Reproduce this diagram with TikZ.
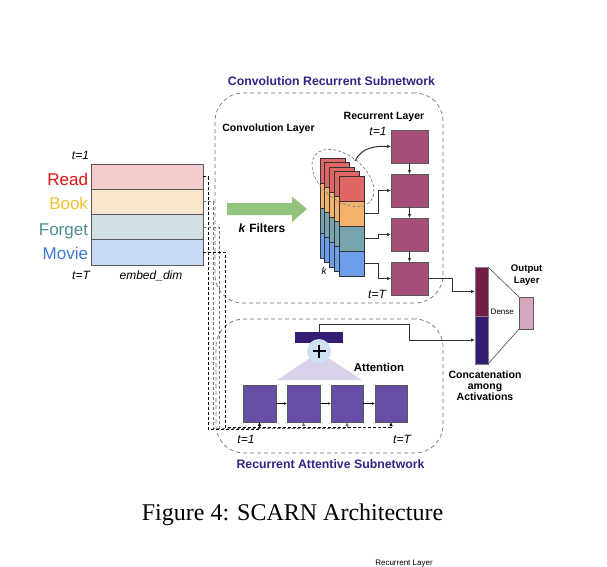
\documentclass[tikz,border=0pt]{standalone}
\usepackage{fontspec}
\setmainfont{Liberation Sans}
\newfontfamily\capfont{Liberation Serif}
\usetikzlibrary{arrows.meta,shapes.geometric,calc}
\definecolor{titlec}{RGB}{55,35,135}
\definecolor{rowA}{HTML}{F4CCCC}
\definecolor{rowB}{HTML}{FCE5CD}
\definecolor{rowC}{HTML}{D0E0E3}
\definecolor{rowD}{HTML}{C9DAF8}
\definecolor{wRead}{RGB}{220,20,20}
\definecolor{wBook}{RGB}{241,194,50}
\definecolor{wForget}{RGB}{80,140,150}
\definecolor{wMovie}{RGB}{60,120,216}
\definecolor{cvA}{HTML}{E06666}
\definecolor{cvB}{HTML}{F6B26B}
\definecolor{cvC}{HTML}{76A5AF}
\definecolor{cvD}{HTML}{6D9EEB}
\definecolor{recc}{HTML}{A64D79}
\definecolor{attc}{HTML}{674EA7}
\definecolor{indigo}{HTML}{351C75}
\definecolor{plum}{HTML}{741B47}
\definecolor{outc}{HTML}{D5A6BD}
\definecolor{greenc}{HTML}{93C47D}
\definecolor{circc}{HTML}{CFE2F3}
\definecolor{tric}{HTML}{D9D2E9}
\begin{document}
\begin{tikzpicture}[x=1pt,y=-1pt,
  box/.style={draw=black!65, line width=0.7pt, inner sep=0pt, outer sep=0pt, anchor=north west},
  lbl/.style={inner sep=0pt, outer sep=0pt, anchor=base},
  conn/.style={draw=black!80, line width=1pt, -{Latex[length=4pt,width=3.5pt]}},
  dln/.style={dash pattern=on 3pt off 2pt, line width=0.8pt, -{Latex[length=4pt,width=3.5pt]}},
  subbox/.style={draw=black!55, dash pattern=on 4pt off 3pt, line width=0.7pt, rounded corners=28pt, inner sep=0pt, outer sep=0pt, anchor=north west},
  ttl/.style={lbl, text=titlec, font=\bfseries\fontsize{12.3}{14}\selectfont},
  bl/.style={lbl, font=\bfseries\fontsize{10.5}{12}\selectfont},
  it/.style={lbl, font=\itshape\fontsize{12}{14}\selectfont},
  wd/.style={inner sep=0pt, outer sep=0pt, anchor=base east, font=\fontsize{17}{20}\selectfont}
]
\useasboundingbox (0,0) rectangle (607,566);
\fill[white] (0,0) rectangle (607,566);
\clip (0,0) rectangle (607,566);

% subnetwork boxes
\node[subbox, minimum width=228pt, minimum height=210pt] (crs) at (215,93) {};
\node[subbox, minimum width=227pt, minimum height=134pt] (ras) at (216,319) {};
\node[ttl] (crstitle) at (331.5,85) {Convolution Recurrent Subnetwork};
\node[ttl] (rastitle) at (330.5,468.3) {Recurrent Attentive Subnetwork};

% embedding matrix
\node[box, fill=rowA, minimum width=112pt, minimum height=25.25pt] (e1) at (91,164) {};
\node[box, fill=rowB, minimum width=112pt, minimum height=25.25pt] (e2) at (91,189.25) {};
\node[box, fill=rowC, minimum width=112pt, minimum height=25.25pt] (e3) at (91,214.5) {};
\node[box, fill=rowD, minimum width=112pt, minimum height=25.25pt] (e4) at (91,239.75) {};
\node[wd, text=wRead] (wread) at (88,185) {Read};
\node[wd, text=wBook] (wbook) at (88,209.5) {Book};
\node[wd, text=wForget] (wforget) at (88,235) {Forget};
\node[wd, text=wMovie] (wmovie) at (88,259.5) {Movie};
\node[it] (et1) at (80.5,159) {t=1};
\node[it] (etT) at (81,279) {t=T};
\node[it] (edim) at (151,279) {embed\_dim};

% labels in conv subnetwork
\node[bl] (convlab) at (268.5,131) {Convolution Layer};
\node[bl] (reclab) at (384,119.2) {Recurrent Layer};

% green arrow
\fill[greenc] (227,203) -- (292,203) -- (292,196.5) -- (307,209) -- (292,222) -- (292,215) -- (227,215) -- cycle;
\node[lbl, font=\bfseries\fontsize{12}{14}\selectfont] (kfil) at (262,232.7) {\textit{k} Filters};

% conv stack
\foreach \i in {0,...,4} {
  \pgfmathsetmacro\xx{320+4.75*\i}
  \pgfmathsetmacro\yy{158+4.5*\i}
  \node[box, draw=black!80, fill=cvA, minimum width=25pt, minimum height=25pt] (s\i-1) at (\xx,\yy) {};
  \node[box, draw=black!80, fill=cvB, minimum width=25pt, minimum height=25pt] (s\i-2) at (\xx,\yy+25) {};
  \node[box, draw=black!80, fill=cvC, minimum width=25pt, minimum height=25pt] (s\i-3) at (\xx,\yy+50) {};
  \node[box, draw=black!80, fill=cvD, minimum width=25pt, minimum height=25pt] (s\i-4) at (\xx,\yy+75) {};
}
\node[lbl, font=\itshape\fontsize{10}{12}\selectfont] (klab) at (324,274) {k};
\node[draw=black!50, dash pattern=on 3pt off 2pt, line width=0.7pt, ellipse, minimum width=72pt, minimum height=44pt, rotate=-40] (ell) at (343,178) {};
\coordinate (ellp) at (355,161);

% recurrent cells
\node[box, fill=recc, minimum width=37pt, minimum height=33pt] (r1) at (391,130) {};
\node[box, fill=recc, minimum width=37pt, minimum height=33pt] (r2) at (391,174) {};
\node[box, fill=recc, minimum width=37pt, minimum height=33pt] (r3) at (391,218) {};
\node[box, fill=recc, minimum width=37pt, minimum height=33pt] (r4) at (391,262) {};
\node[it] (rt1) at (378,135) {t=1};
\node[it] (rtT) at (377,298) {t=T};
\draw[conn] (ellp) .. controls (362,147) and (375,146) .. (r1.west);
\draw[conn] (s4-2.east) -- ++(14,0) |- (r2.west);
\draw[conn] (s4-3.east) -- ++(14,0) |- (r3.west);
\draw[conn] (s4-4.east) -- ++(14,0) |- (r4.west);
\draw[conn] (r1.south) -- (r2.north);
\draw[conn] (r2.south) -- (r3.north);
\draw[conn] (r3.south) -- (r4.north);

% concatenation and output
\node[box, draw=black!50, fill=plum, minimum width=13pt, minimum height=49pt] (cc1) at (475,267) {};
\node[box, draw=black!50, fill=indigo, minimum width=13pt, minimum height=48pt] (cc2) at (475,316) {};
\node[box, fill=outc, minimum width=14pt, minimum height=32pt] (ob) at (519,297) {};
\draw[line width=0.6pt, draw=black!70] (cc1.north east) -- (ob.north west);
\draw[line width=0.6pt, draw=black!70] (cc2.south east) -- (ob.south west);
\draw[conn] (r4.east) -- ++(24,0) |- (cc1.west);
\node[lbl, font=\fontsize{8}{9}\selectfont] (dense) at (502.3,314) {Dense};
\node[lbl, font=\bfseries\fontsize{9.6}{11}\selectfont] (out1) at (526.7,271) {Output};
\node[lbl, font=\bfseries\fontsize{9.6}{11}\selectfont] (out2) at (526.7,283) {Layer};
\node[bl] (cat1) at (485,378.2) {Concatenation};
\node[bl] (cat2) at (485,389.5) {among};
\node[bl] (cat3) at (485,400.8) {Activations};

% attention part
\node[box, draw=none, fill=indigo, minimum width=48pt, minimum height=11pt] (abar) at (295,332) {};
\fill[tric] (319,352) -- (277,380) -- (362,380) -- cycle;
\node[circle, fill=circc, minimum size=24pt, inner sep=0pt] (plus) at (319,351) {};
\draw[line width=2.2pt] (312.5,351) -- (325.5,351) (319,344.5) -- (319,357.5);
\node[lbl, font=\bfseries\fontsize{11.4}{13}\selectfont] (attlab) at (379,371.7) {Attention};
\node[box, fill=attc, minimum width=33pt, minimum height=37pt] (a1) at (243,385) {};
\node[box, fill=attc, minimum width=33pt, minimum height=37pt] (a2) at (287,385) {};
\node[box, fill=attc, minimum width=32pt, minimum height=37pt] (a3) at (331,385) {};
\node[box, fill=attc, minimum width=32pt, minimum height=37pt] (a4) at (375,385) {};
\draw[line width=0.5pt, -{Latex[length=3pt,width=2.5pt]}] (a1.east) -- (a2.west);
\draw[line width=0.5pt, -{Latex[length=3pt,width=2.5pt]}] (a2.east) -- (a3.west);
\draw[line width=0.5pt, -{Latex[length=3pt,width=2.5pt]}] (a3.east) -- (a4.west);
\node[it] (at1) at (246,443) {t=1};
\node[it] (atT) at (402,443) {t=T};
\draw[conn] (abar.north) -- ++(0,-8) -| ($(cc2.west)+(-66,0)$) -- (cc2.west);

% embedding to attentive cells
\draw[dln, draw=black] (e1.east) -| (208,429) -| (a1.south);
\draw[dln, draw=black!55] (e2.east) -| (213,428) -| (a2.south);
\draw[dln, draw=black!55] (e3.east) -| (219,428) -| (a3.south);
\draw[dln, draw=black] (e4.east) -| (225,427) -| (a4.south);

% caption
\node[lbl, font=\capfont\fontsize{24}{28}\selectfont] (caption) at (292.5,520) {Figure 4: SCARN Architecture};
\node[lbl, font=\fontsize{8}{9}\selectfont] (nextfig) at (404,565.5) {Recurrent Layer};
\end{tikzpicture}
\end{document}
